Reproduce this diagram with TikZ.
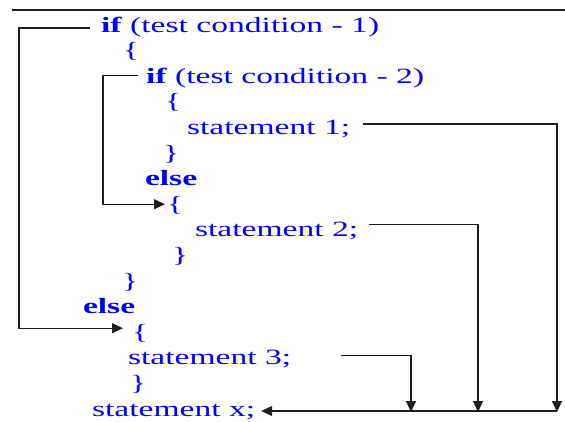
\documentclass[tikz,border=0pt]{standalone}
\usepackage{fontspec}
\usepackage{graphicx}
\setmainfont{Liberation Serif}
\newfontfamily\codefont{Liberation Serif}
\usetikzlibrary{arrows.meta}

% code text is set wide, as in the printed listing
\newcommand{\widetext}[1]{\scalebox{1.54}[1]{#1}}

\definecolor{codeblue}{RGB}{0,0,255}
\definecolor{wire}{RGB}{30,30,30}

\tikzset{
  code/.style={inner sep=0pt, outer sep=0pt, anchor=base west,
    text=codeblue, font=\codefont\fontsize{21.8}{26}\selectfont},
  flow/.style={draw=wire, line width=1.1pt},
  flowarrow/.style={flow, -{Triangle[length=11pt,width=10pt]}}
}

\begin{document}
\begin{tikzpicture}[x=1pt, y=-1pt]
  \useasboundingbox (0,0) rectangle (565,421);

  % rule across the top
  \coordinate (ruleL) at (12,10);
  \coordinate (ruleR) at (565,10);
  \draw[wire, line width=1.2pt] (ruleL) -- (ruleR);

  % the listing
  \node[code] (ifA) at (101,32)    {\widetext{\textbf{if} (test condition - 1)}};
  \node[code] (bA)  at (123,57.6)  {\widetext{\{}};
  \node[code] (ifB) at (146,83.2)  {\widetext{\textbf{if} (test condition - 2)}};
  \node[code] (bB)  at (165,108.8) {\widetext{\{}};
  \node[code] (s1)  at (187,134.4) {\widetext{statement 1;}};
  \node[code] (eB)  at (163,160)   {\widetext{\}}};
  \node[code] (elB) at (145,185.6) {\widetext{\textbf{else}}};
  \node[code] (bC)  at (167,211.2) {\widetext{\{}};
  \node[code] (s2)  at (195,236.8) {\widetext{statement 2;}};
  \node[code] (eC)  at (172,262.4) {\widetext{\}}};
  \node[code] (eA)  at (122,288)   {\widetext{\}}};
  \node[code] (elA) at (83,313.6)  {\widetext{\textbf{else}}};
  \node[code] (bD)  at (132,339.2) {\widetext{\{}};
  \node[code] (s3)  at (128,364.8) {\widetext{statement 3;}};
  \node[code] (eD)  at (130,390.4) {\widetext{\}}};
  \node[code] (sx)  at (92,416)    {\widetext{statement x;}};

  % false branch of the outer test
  \draw[flowarrow] ([xshift=-11pt,yshift=4pt]ifA.base west) -- ++(-71,0)
    |- ([xshift=-9pt,yshift=11pt]bD.base west);

  % false branch of the inner test
  \draw[flowarrow] ([xshift=-8pt,yshift=8pt]ifB.base west) -- ++(-35,0)
    |- ([xshift=-2pt,yshift=7pt]bC.base west);

  % every branch continues at statement x
  \coordinate (d1) at (557,412);
  \coordinate (d2) at (478,412);
  \coordinate (d3) at (411,412);
  \coordinate (busR) at (557,411);

  \draw[flowarrow] ([xshift=13pt,yshift=10.4pt]s1.base east) -| (d1);
  \draw[flowarrow] ([xshift=11pt,yshift=12pt]s2.base east) -| (d2);
  \draw[flowarrow] ([xshift=50pt,yshift=9pt]s3.base east) -| (d3);
  \draw[flowarrow] (busR) -- ([xshift=6pt,yshift=5pt]sx.base east);
\end{tikzpicture}
\end{document}
